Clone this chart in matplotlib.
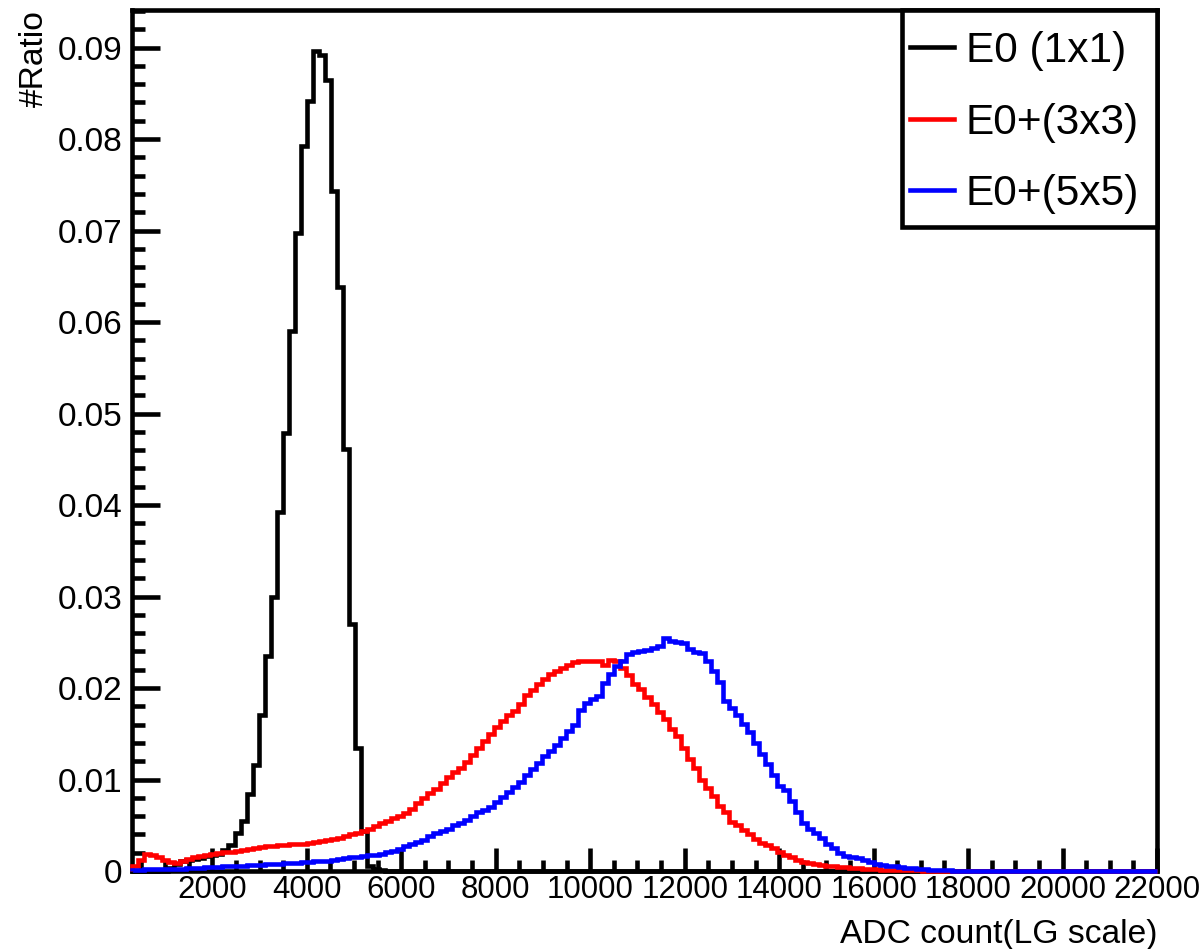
import numpy as np
import matplotlib
matplotlib.use("Agg")
import matplotlib.pyplot as plt
from matplotlib.ticker import MultipleLocator, FuncFormatter
from matplotlib.lines import Line2D
from matplotlib.patches import Rectangle

# Histogram binning (ADC counts)
x_min, x_max, n_bins = 300, 22000, 170

# E0 (1x1)
e0_1x1 = [
    0.0, 0.0, 0.0, 0.0, 0.0, 0.0, 0.0003, 0.0008, 0.0011, 0.0012,
    0.0013, 0.0014, 0.0016, 0.0017, 0.0019, 0.0023, 0.0028, 0.0041, 0.0055, 0.0084,
    0.0116, 0.0171, 0.0235, 0.0299, 0.0392, 0.0479, 0.0590, 0.0697, 0.0792, 0.0842,
    0.0896, 0.0892, 0.0865, 0.0743, 0.0638, 0.0461, 0.0270, 0.0134, 0.0044, 0.0005,
    0.0002, 0.0001,
]

# E0 + (3x3)
e0_3x3 = [
    0.0005, 0.0012, 0.0019, 0.0018, 0.0015, 0.0012, 0.0010, 0.0009, 0.0011, 0.0013,
    0.0015, 0.0016, 0.0018, 0.0019, 0.0020, 0.0021, 0.0021, 0.0022, 0.0023, 0.0024,
    0.0025, 0.0026, 0.0027, 0.0027, 0.0028, 0.0028, 0.0029, 0.0030, 0.0030, 0.0031,
    0.0032, 0.0033, 0.0034, 0.0035, 0.0036, 0.0038, 0.0040, 0.0042, 0.0044, 0.0046,
    0.0049, 0.0052, 0.0055, 0.0058, 0.0060, 0.0063, 0.0068, 0.0074, 0.0080, 0.0085,
    0.0090, 0.0096, 0.0103, 0.0108, 0.0113, 0.0119, 0.0127, 0.0134, 0.0142, 0.0150,
    0.0157, 0.0164, 0.0170, 0.0175, 0.0183, 0.0192, 0.0198, 0.0204, 0.0210, 0.0215,
    0.0219, 0.0222, 0.0225, 0.0228, 0.0229, 0.0230, 0.0230, 0.0229, 0.0225, 0.0231,
    0.0229, 0.0222, 0.0214, 0.0204, 0.0199, 0.0190, 0.0182, 0.0174, 0.0166, 0.0155,
    0.0147, 0.0134, 0.0122, 0.0113, 0.0099, 0.0091, 0.0082, 0.0071, 0.0064, 0.0054,
    0.0050, 0.0045, 0.0040, 0.0035, 0.0031, 0.0028, 0.0025, 0.0021, 0.0018, 0.0015,
    0.0012, 0.0010, 0.0009, 0.0008, 0.0007, 0.0006, 0.0005, 0.0004, 0.0004, 0.0003,
    0.0003, 0.0002, 0.0002, 0.0002, 0.0001, 0.0001, 0.0001, 0.0001, 0.0001, 0.0001,
    0.0001,
]

# E0 + (5x5)
e0_5x5 = [
    0.0001, 0.0001, 0.0002, 0.0002, 0.0002, 0.0002, 0.0002, 0.0002, 0.0002, 0.0003,
    0.0003, 0.0003, 0.0004, 0.0004, 0.0004, 0.0005, 0.0005, 0.0006, 0.0006, 0.0007,
    0.0007, 0.0007, 0.0008, 0.0008, 0.0008, 0.0009, 0.0009, 0.0009, 0.0010, 0.0010,
    0.0011, 0.0011, 0.0011, 0.0012, 0.0013, 0.0014, 0.0015, 0.0015, 0.0016, 0.0017,
    0.0018, 0.0019, 0.0021, 0.0022, 0.0024, 0.0027, 0.0029, 0.0032, 0.0034, 0.0038,
    0.0041, 0.0044, 0.0046, 0.0050, 0.0053, 0.0056, 0.0060, 0.0064, 0.0067, 0.0070,
    0.0075, 0.0081, 0.0086, 0.0092, 0.0097, 0.0105, 0.0112, 0.0118, 0.0126, 0.0131,
    0.0138, 0.0145, 0.0153, 0.0160, 0.0176, 0.0184, 0.0188, 0.0191, 0.0205, 0.0215,
    0.0224, 0.0230, 0.0237, 0.0239, 0.0240, 0.0241, 0.0244, 0.0246, 0.0255, 0.0251,
    0.0250, 0.0249, 0.0243, 0.0239, 0.0238, 0.0230, 0.0219, 0.0207, 0.0186, 0.0178,
    0.0170, 0.0161, 0.0152, 0.0140, 0.0128, 0.0117, 0.0105, 0.0093, 0.0088, 0.0077,
    0.0065, 0.0052, 0.0046, 0.0041, 0.0036, 0.0030, 0.0025, 0.0020, 0.0016, 0.0015,
    0.0014, 0.0012, 0.0010, 0.0008, 0.0007, 0.0006, 0.0005, 0.0004, 0.0003, 0.0003,
    0.0002, 0.0002, 0.0001, 0.0001, 0.0001, 0.0001,
]

labels = ["E0 (1x1)", "E0+(3x3)", "E0+(5x5)"]
colors = ["#000000", "#ff0000", "#0000ff"]

x_title = "ADC count(LG scale)"
y_title = "#Ratio"


def padded(vals):
    arr = np.zeros(n_bins)
    arr[:len(vals)] = vals
    return arr


plt.rcParams["font.family"] = ["Liberation Sans", "DejaVu Sans"]

fig = plt.figure(figsize=(12.03, 9.49), dpi=100)
W, H = 1203, 949


def fx(px):
    return px / W


def fy(py):
    return (H - py) / H


left, right, top, bottom = 132, 1157, 10, 871
ax = fig.add_axes([fx(left), fy(bottom), (right - left) / W, (bottom - top) / H])

edges = np.linspace(x_min, x_max, n_bins + 1)
lw = 3.3
for vals, c in zip([e0_1x1, e0_3x3, e0_5x5], colors):
    ax.stairs(padded(vals), edges, color=c, linewidth=lw, zorder=3,
              clip_on=False, joinstyle="miter")

ax.set_xlim(x_min, x_max)
ax.set_ylim(0, 0.0941)

ax.xaxis.set_major_locator(MultipleLocator(2000))
ax.xaxis.set_minor_locator(MultipleLocator(500))
ax.yaxis.set_major_locator(MultipleLocator(0.01))
ax.yaxis.set_minor_locator(MultipleLocator(0.002))

ax.xaxis.set_major_formatter(FuncFormatter(lambda v, p: f"{int(round(v))}"))
ax.yaxis.set_major_formatter(FuncFormatter(lambda v, p: "0" if abs(v) < 1e-9 else f"{v:.2f}"))

ax.tick_params(axis="both", which="both", direction="in", top=False, right=False,
               width=lw, color="black")
ax.tick_params(axis="x", which="major", length=16.5, labelsize=22.5, pad=3)
ax.tick_params(axis="x", which="minor", length=8)
ax.tick_params(axis="y", which="major", length=20, labelsize=24, pad=7)
ax.tick_params(axis="y", which="minor", length=9.4)

for s in ax.spines.values():
    s.set_linewidth(lw)
    s.set_color("black")

fig.text(fx(1157), fy(943), x_title, ha="right", va="baseline", fontsize=24.2)
fig.text(fx(34), fy(10), y_title, rotation=90, ha="center", va="top", fontsize=24.2)

# Legend box in the upper-right corner of the frame
box_l, box_r, box_t, box_b = 902, 1157, 10, 227
fig.patches.append(Rectangle((fx(box_l), fy(box_b)), (box_r - box_l) / W, (box_b - box_t) / H,
                             transform=fig.transFigure, facecolor="white",
                             edgecolor="black", linewidth=lw, zorder=5))
entry_y = [47, 118.5, 190]
leg_fs = 30.5
cap_half = 0.716 * leg_fs / 0.72 / 2
for yy, lab, c in zip(entry_y, labels, colors):
    fig.add_artist(Line2D([fx(910), fx(954)], [fy(yy), fy(yy)], transform=fig.transFigure,
                          color=c, linewidth=lw, zorder=6))
    fig.text(fx(966), fy(yy + cap_half), lab, ha="left", va="baseline",
             fontsize=leg_fs, zorder=6)

fig.savefig("out.png", dpi=100, facecolor="white")
